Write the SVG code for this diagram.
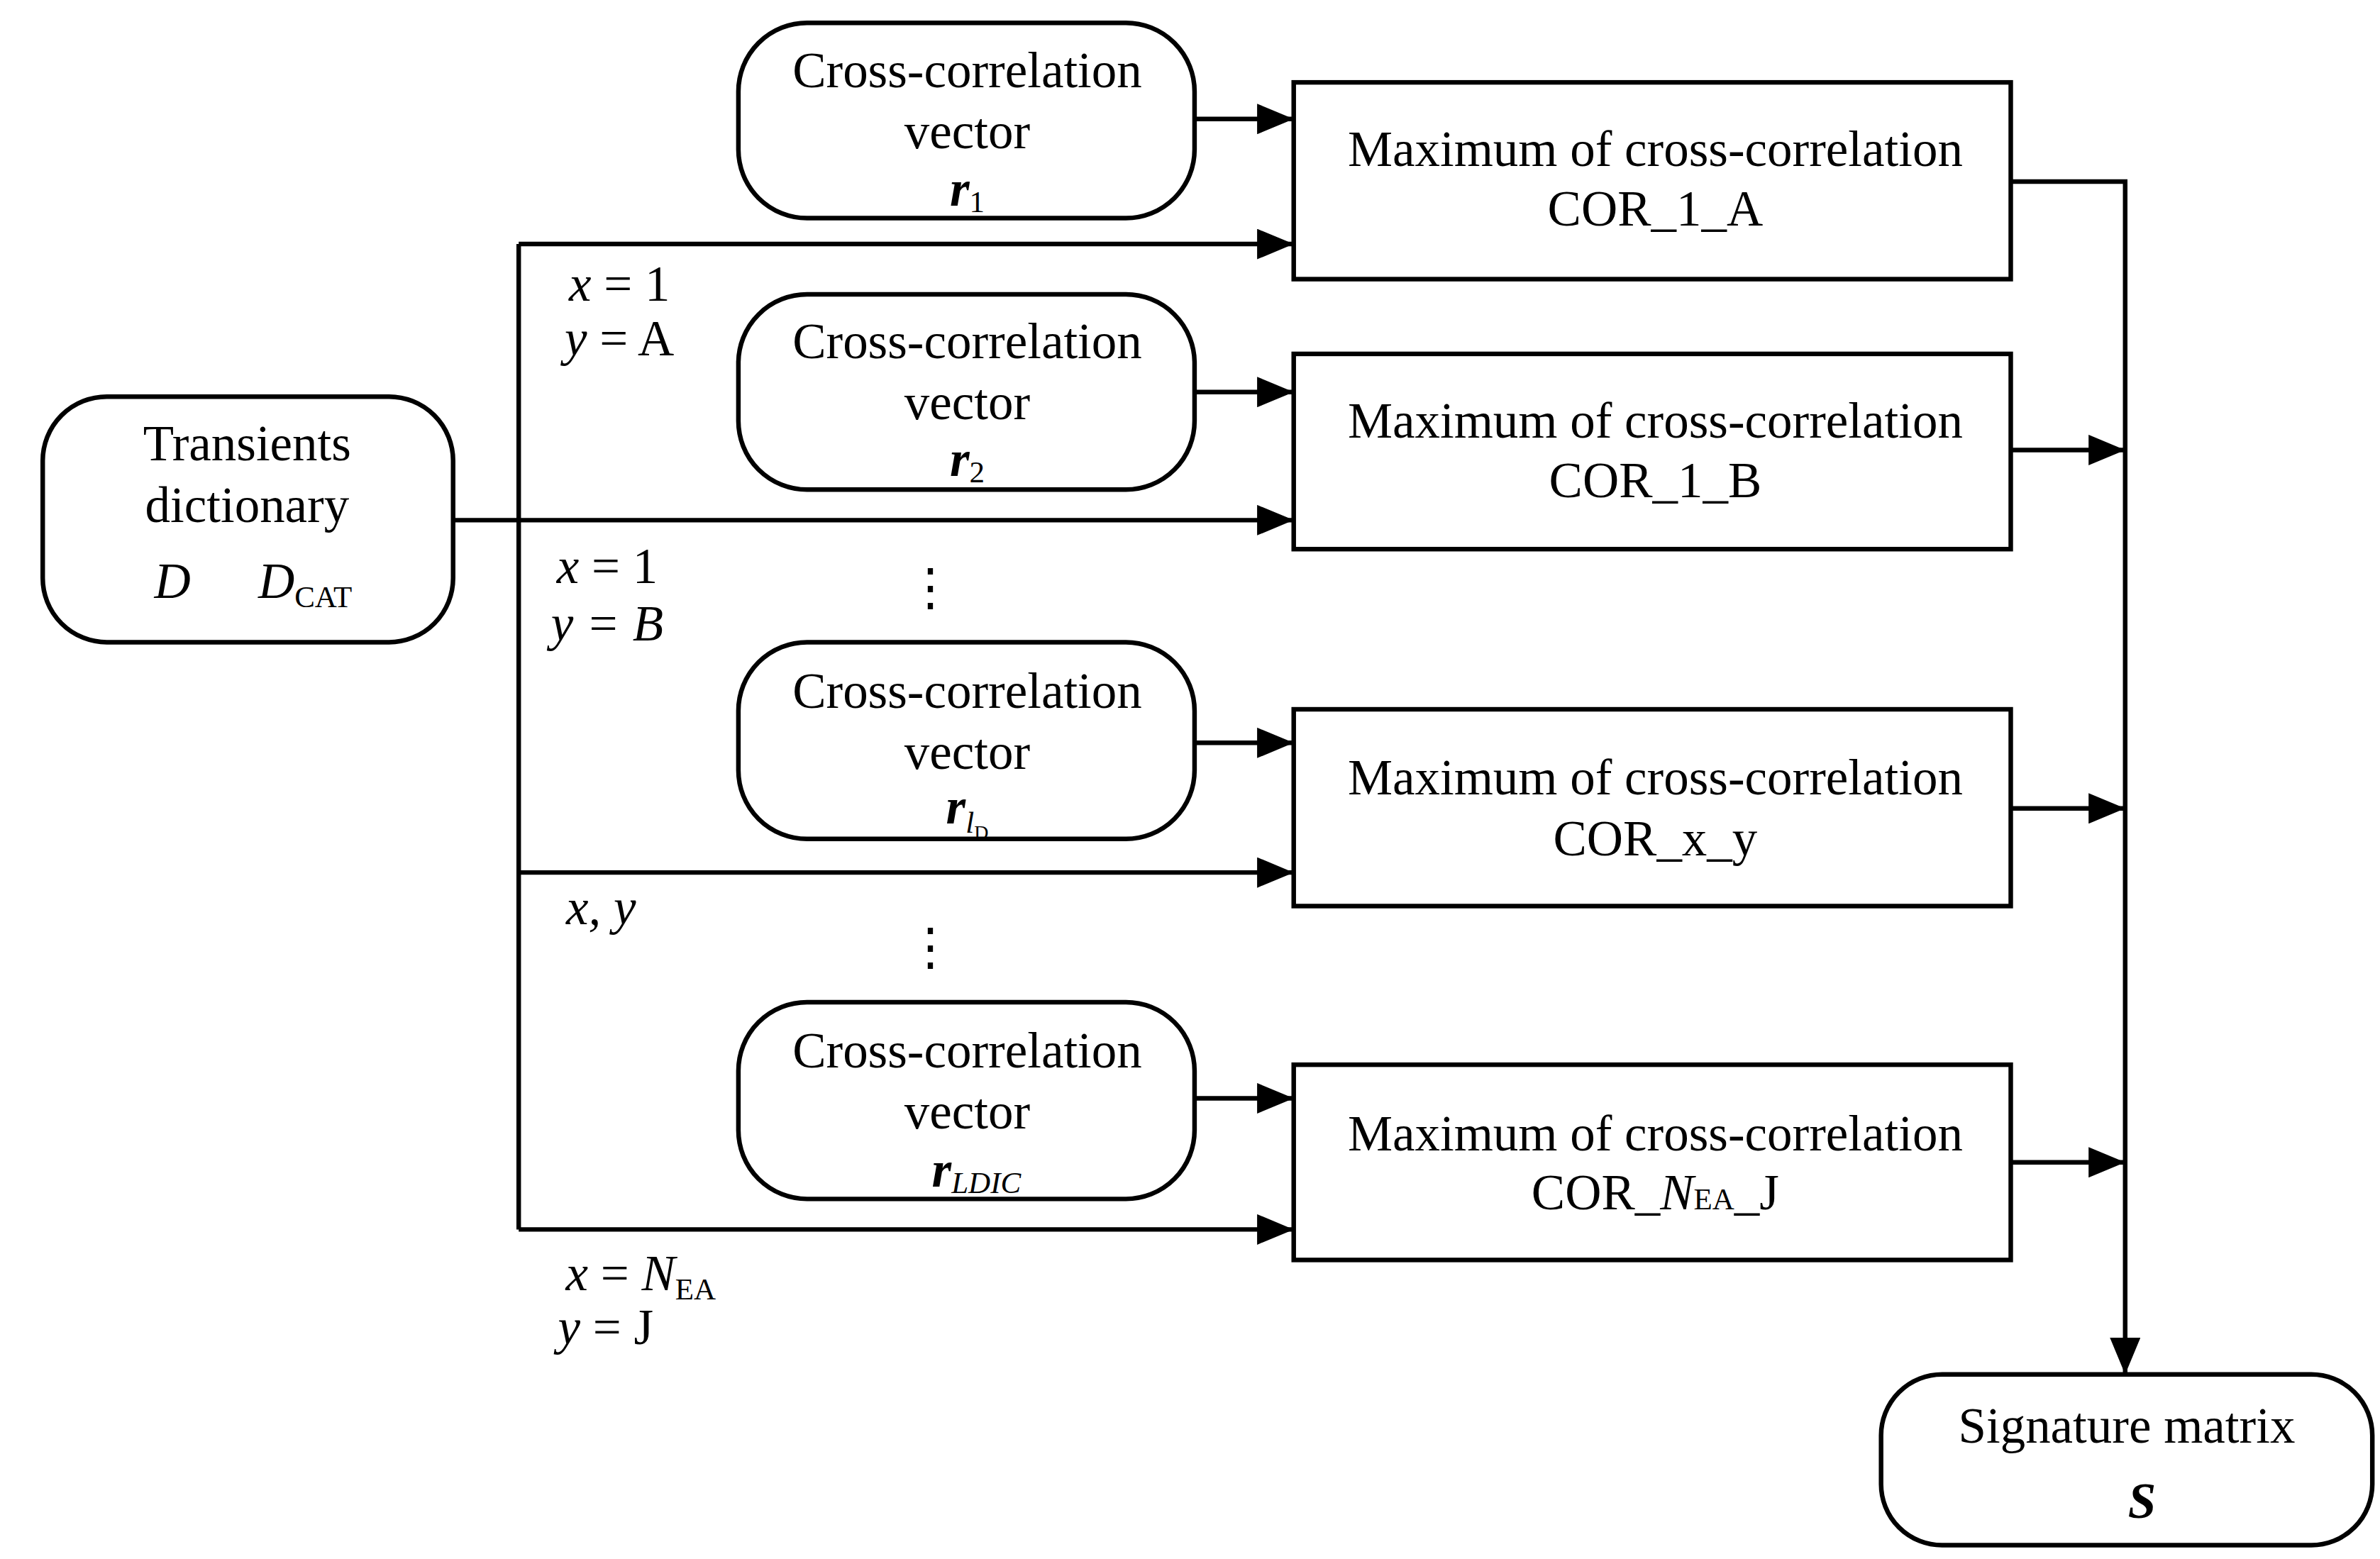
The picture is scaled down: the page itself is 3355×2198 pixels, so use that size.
<svg xmlns="http://www.w3.org/2000/svg" width="3355" height="2198" viewBox="0 0 3355 2198">
<style>
.b{fill:#fff;stroke:#000;stroke-width:3}
.l{fill:none;stroke:#000;stroke-width:3}
text{font-family:"Liberation Serif",serif;font-size:33px;fill:#000;text-anchor:middle}
.i{font-style:italic}
.s{font-size:20px}
</style>
<defs><marker id="A" viewBox="0 0 10 10" refX="10" refY="5" markerWidth="24" markerHeight="20" orient="auto" markerUnits="userSpaceOnUse" preserveAspectRatio="none"><path d="M0,0L10,5L0,10z"/></marker></defs>
<rect width="3355" height="2198" fill="#fff"/>
<g transform="scale(2.1506)">
<g id="connectors">
<path class="l" d="M297,341H340M340,160V806"/>
<path class="l" marker-end="url(#A)" d="M340,160H848"/>
<path class="l" marker-end="url(#A)" d="M340,341H848"/>
<path class="l" marker-end="url(#A)" d="M340,572H848"/>
<path class="l" marker-end="url(#A)" d="M340,806H848"/>
<path class="l" marker-end="url(#A)" d="M783,78H848"/>
<path class="l" marker-end="url(#A)" d="M783,257H848"/>
<path class="l" marker-end="url(#A)" d="M783,487H848"/>
<path class="l" marker-end="url(#A)" d="M783,720H848"/>
<path class="l" marker-end="url(#A)" d="M1318,119H1393V901"/>
<path class="l" marker-end="url(#A)" d="M1318,295H1393"/>
<path class="l" marker-end="url(#A)" d="M1318,530H1393"/>
<path class="l" marker-end="url(#A)" d="M1318,762H1393"/>
</g>
<g id="dict"><rect class="b" x="28" y="260" width="269" height="161" rx="42"/>
<text x="162" y="302">Transients</text><text x="162" y="342">dictionary</text>
<text x="113" y="392" class="i">D</text><text x="200" y="392" class="i">D<tspan class="s" font-style="normal" dy="6">CAT</tspan></text></g>
<g id="cc1"><rect class="b" x="484" y="15" width="299" height="128" rx="45"/>
<text x="634" y="57">Cross-correlation</text><text x="634" y="97">vector</text>
<text x="634" y="135" class="i" font-weight="bold">r<tspan class="s" font-weight="normal" font-style="normal" dy="4">1</tspan></text></g>
<g id="cc2"><rect class="b" x="484" y="193" width="299" height="128" rx="45"/>
<text x="634" y="235">Cross-correlation</text><text x="634" y="275">vector</text>
<text x="634" y="312" class="i" font-weight="bold">r<tspan class="s" font-weight="normal" font-style="normal" dy="4">2</tspan></text></g>
<g id="cc3"><rect class="b" x="484" y="421" width="299" height="129" rx="45"/>
<text x="634" y="464">Cross-correlation</text><text x="634" y="504">vector</text>
<text x="634" y="540" class="i" font-weight="bold">r<tspan class="s" font-weight="normal" dy="6">l</tspan><tspan font-size="13" font-weight="normal" font-style="normal" dy="4">D</tspan></text></g>
<g id="cc4"><rect class="b" x="484" y="657" width="299" height="129" rx="45"/>
<text x="634" y="700">Cross-correlation</text><text x="634" y="740">vector</text>
<text x="640" y="778" class="i" font-weight="bold">r<tspan class="s" font-weight="normal" dy="4">LDIC</tspan></text></g>
<g id="m1"><rect class="b" x="848" y="54" width="470" height="129"/>
<text x="1085" y="109">Maximum of cross-correlation</text><text x="1085" y="148">COR_1_A</text></g>
<g id="m2"><rect class="b" x="848" y="232" width="470" height="128"/>
<text x="1085" y="287">Maximum of cross-correlation</text><text x="1085" y="326">COR_1_B</text></g>
<g id="m3"><rect class="b" x="848" y="465" width="470" height="129"/>
<text x="1085" y="521">Maximum of cross-correlation</text><text x="1085" y="561">COR_x_y</text></g>
<g id="m4"><rect class="b" x="848" y="698" width="470" height="128"/>
<text x="1085" y="754">Maximum of cross-correlation</text><text x="1085" y="793">COR_<tspan class="i">N</tspan><tspan class="s">EA</tspan>_J</text></g>
<g id="sig"><rect class="b" x="1233" y="901" width="322" height="112" rx="40"/>
<text x="1394" y="946">Signature matrix</text><text x="1404" y="995" class="i" font-weight="bold">S</text></g>
<g id="labels">
<text x="406" y="197"><tspan class="i">x</tspan> = 1</text>
<text x="406" y="233"><tspan class="i">y</tspan> = A</text>
<text x="398" y="382"><tspan class="i">x</tspan> = 1</text>
<text x="398" y="420" class="i">y = B</text>
<text x="394" y="606" class="i">x, y</text>
<text x="420" y="846"><tspan class="i">x</tspan> = <tspan class="i">N</tspan><tspan class="s" dy="6">EA</tspan></text>
<text x="397" y="881"><tspan class="i">y</tspan> = J</text>
<text x="610" y="396" font-size="40">⋮</text>
<text x="610" y="632" font-size="40">⋮</text>
</g>
</g>
</svg>
